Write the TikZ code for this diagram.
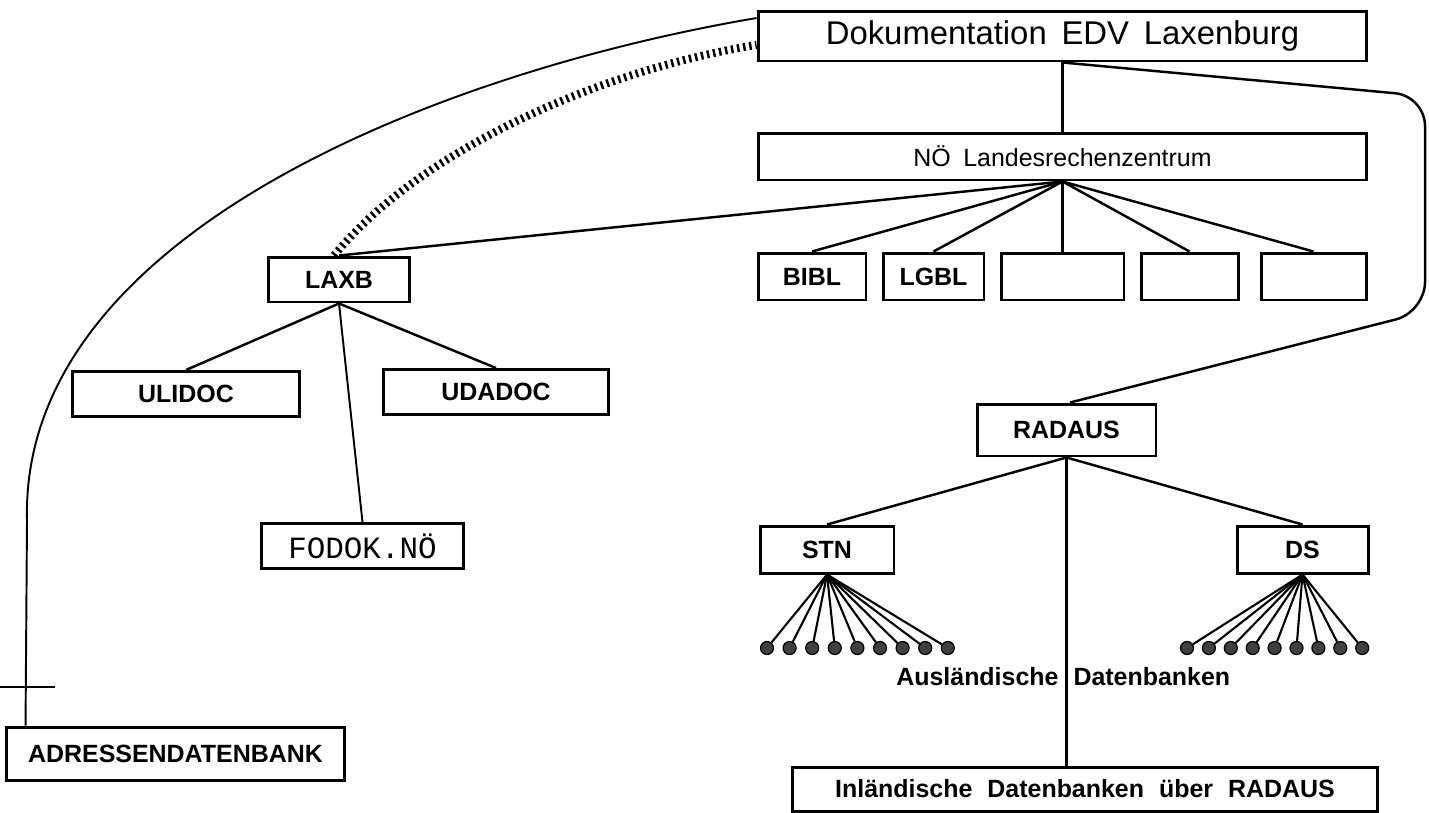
\documentclass[tikz,border=0pt]{standalone}
\usepackage{fontspec}
\setmainfont{Liberation Sans}
\setmonofont{Liberation Mono}
\usepackage{tikz}

\begin{document}
\begin{tikzpicture}[
x=0.02cm,
y=-0.02cm,
every node/.style={font=\fontsize{14.2}{17}\selectfont\bfseries},
dbbox/.style={rectangle,draw,line width=1.7pt,align=center,inner sep=0pt,minimum height=0.94cm},
head/.style={font=\fontsize{18.7}{22}\selectfont},
plainlabel/.style={font=\fontsize{14.2}{17}\selectfont},
monolabel/.style={font=\fontsize{17.6}{20}\selectfont\ttfamily},
link/.style={line width=1.4pt},
thinlink/.style={line width=1.1pt},
fanlink/.style={line width=1.2pt},
hatch/.style={line width=4.5pt,dash pattern=on 1.4pt off 2.1pt},
dbdot/.style={circle,draw,fill=black!75,line width=0.7pt,inner sep=0pt,minimum size=0.26cm}
]
\useasboundingbox (0,0) rectangle (1429,812);

\node[dbbox,head,minimum width=12.18cm,minimum height=1.0cm] (doc) at (1062.5,36) {Dokumentation\hspace{0.45em}EDV\hspace{0.45em}Laxenburg};
\node[dbbox,plainlabel,minimum width=12.18cm] (noe) at (1062.5,156.5) {NÖ\hspace{0.5em}Landesrechenzentrum};
\node[dbbox,minimum width=2.16cm] (bibl) at (812,276.5) {BIBL};
\node[dbbox,minimum width=2.02cm] (lgbl) at (933.5,276.5) {LGBL};
\node[dbbox,minimum width=2.46cm] (nempty1) at (1062.5,276.5) {};
\node[dbbox,minimum width=1.94cm] (nempty2) at (1189.5,276.5) {};
\node[dbbox,minimum width=2.10cm] (nempty3) at (1313.5,276.5) {};

\node[dbbox,minimum width=2.84cm,minimum height=0.9cm] (laxb) at (339,279.5) {LAXB};
\node[dbbox,minimum width=4.56cm,minimum height=0.9cm] (ulidoc) at (186,394) {ULIDOC};
\node[dbbox,minimum width=4.52cm,minimum height=0.9cm] (udadoc) at (496,392) {UDADOC};
\node[dbbox,monolabel,minimum width=4.06cm,minimum height=0.9cm] (fodok) at (362.5,546) {FODOK.NÖ};
\node[dbbox,minimum width=6.78cm,minimum height=1.06cm] (adr) at (175.5,753.5) {ADRESSENDATENBANK};

\node[dbbox,minimum width=3.58cm,minimum height=1.04cm] (radaus) at (1066.5,430) {RADAUS};
\node[dbbox,minimum width=2.68cm] (stn) at (827,549.5) {STN};
\node[dbbox,minimum width=2.62cm] (ds) at (1302.5,549.5) {DS};
\node (foreign) at (1066,677) {\llap{Ausländische\hspace{0.3em}}\rlap{\hspace{0.3em}Datenbanken}};
\node[dbbox,minimum width=11.72cm,minimum height=0.88cm] (inland) at (1085,789) {Inländische\hspace{0.6em}Datenbanken\hspace{0.6em}über\hspace{0.6em}RADAUS};

\draw[thinlink] ([yshift=0.36cm]doc.west) .. controls (450,70) and (20,230) .. (27,520) -- ([xshift=0.42cm]adr.north west);
\draw[thinlink] (0,687) -- (55,687);
\draw[hatch] ([xshift=-0.1cm]laxb.north) .. controls (420,150) and (600,70) .. ([yshift=-0.18cm]doc.west);
\draw[link] (doc.south) -- (noe.north);
\draw[link,rounded corners=0.6cm] (doc.south) -- (1425,96) -- (1425,312) -- ([xshift=0.07cm]radaus.north);

\foreach \t in {laxb,bibl,lgbl,nempty1,nempty2,nempty3}
  \draw[link] (noe.south) -- (\t.north);
\foreach \t in {ulidoc,udadoc}
  \draw[link] (laxb.south) -- (\t.north);
\draw[thinlink] (laxb.south) -- (fodok.north);
\foreach \t in {stn,ds}
  \draw[link] (radaus.south) -- (\t.north);
\draw[link] (radaus.south) -- (radaus.south |- inland.north);

\foreach \i in {0,...,8} {
  \node[dbdot] (sdot\i) at ({767+22.6*\i},648) {};
  \draw[fanlink] (stn.south) -- (sdot\i);
  \node[dbdot] (ddot\i) at ({1187+21.9*\i},648) {};
  \draw[fanlink] (ds.south) -- (ddot\i);
}
\end{tikzpicture}
\end{document}
